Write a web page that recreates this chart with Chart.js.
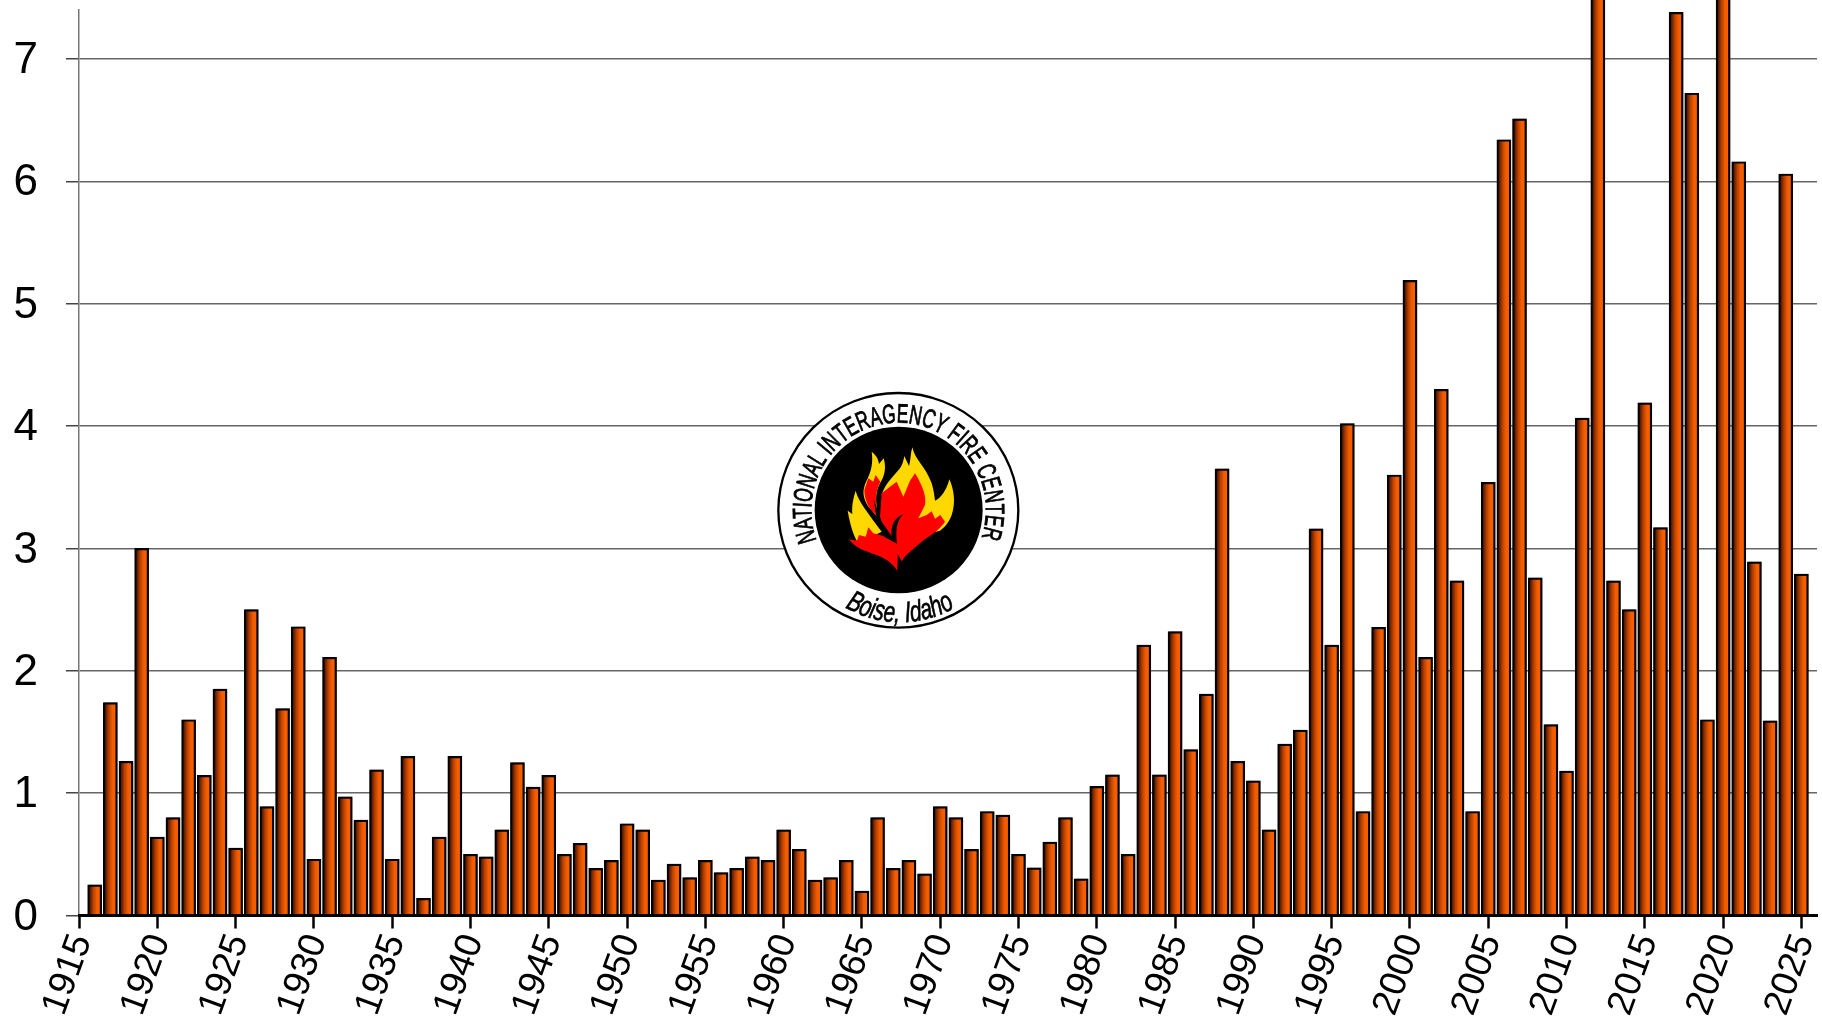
<!DOCTYPE html>
<html lang="en">
<head>
    <meta charset="UTF-8">
    <title>Acres Burned by Year</title>
    <script src="https://cdn.jsdelivr.net/npm/chart.js"></script>
    <style>
        html, body {
            margin: 0;
            padding: 0;
            background-color: #fff;
            overflow: hidden;
        }
        #wrap {
            position: relative;
            width: 1822px;
            height: 1017px;
        }
        #logo {
            position: absolute;
            left: 760px;
            top: 380px;
        }
    </style>
</head>
<body>
    <div id="wrap">
        <canvas id="burnChart" width="1822" height="1017"></canvas>
        <!-- NIFC seal, traced by eye, sits on top of the gridlines -->
        <svg id="logo" width="270" height="260" viewBox="0 0 810 780" xmlns="http://www.w3.org/2000/svg">
            <defs>
                <path id="topArc" d="M170,481 A262,262 0 1 1 664,474"/>
                <path id="bottomArc" d="M255,682 A330,330 0 0 0 600,674"/>
            </defs>
            <ellipse cx="415" cy="391" rx="360" ry="352" fill="#fff" stroke="#000" stroke-width="7"/>
            <ellipse cx="416" cy="390" rx="252" ry="250" fill="#000"/>
            <text font-family="'Liberation Sans', sans-serif" font-size="80" fill="#000" stroke="#000" stroke-width="2.5">
                <textPath href="#topArc" textLength="1000" lengthAdjust="spacingAndGlyphs">NATIONAL INTERAGENCY FIRE CENTER</textPath>
            </text>
            <text font-family="'Liberation Sans', sans-serif" font-style="italic" font-size="88" fill="#000" stroke="#000" stroke-width="2">
                <textPath href="#bottomArc" textLength="345" lengthAdjust="spacingAndGlyphs">Boise, Idaho</textPath>
            </text>
            <g transform="translate(225,180)">
                <path fill="#ffd800" d="M110,35 C128,50 130,60 132,72 L146,55 C155,85 148,110 135,130 C122,155 120,175 130,235 L105,205 C92,190 80,165 88,140 C95,115 118,90 110,35 Z"/>
                <path fill="#ff0000" d="M88,150 L100,115 L115,125 L122,105 L136,125 C122,150 118,180 130,235 L105,205 C95,190 88,170 88,150 Z"/>
                <path fill="#ffd800" d="M232,22 C240,60 272,80 290,130 C296,150 298,165 300,182 C318,175 335,150 343,118 C358,150 362,190 350,225 C340,250 330,260 315,272 L200,300 L140,165 C150,130 180,105 195,85 C205,70 205,60 208,48 L222,78 C228,60 226,40 232,22 Z"/>
                <path fill="#ffd800" d="M62,152 C70,185 100,220 140,275 L70,310 C52,280 45,250 38,212 L52,222 C50,195 55,175 62,152 Z"/>
                <path fill="#ff0000" d="M140,160 L165,140 L185,125 L205,170 L225,122 L240,100 C262,135 275,170 270,195 L250,235 L275,225 L290,214 L300,236 L316,225 L330,245 C318,262 298,280 278,292 C250,312 225,335 208,352 L200,364 L188,342 L187,393 C175,370 150,355 125,345 C95,335 60,325 42,298 L66,302 L72,285 L92,290 L100,262 L115,280 L135,285 L150,290 L135,230 Z"/>
                <path fill="#000" d="M116,178 L140,245 L187,312 L150,292 L126,240 Z"/>
                <path fill="#000" d="M206,222 C188,238 180,262 186,312 L170,288 C166,255 180,232 206,222 Z"/>
            </g>
        </svg>
    </div>

    <script>
        // Years on the axis; 1915 and 2026 are empty, only there to pad the scale
        const years = [];
        for (let y = 1915; y <= 2026; y++) years.push(y);

        // Values, one per year from 1915.
        // 2012 and 2020 run off the top of the picture, real height unknown.
        const values = [
            null, 0.25, 1.74, 1.26, 3.0, 0.64, 0.8, 1.6, 1.145, 1.85,
            0.55, 2.5, 0.89, 1.69, 2.36, 0.46, 2.11, 0.97, 0.78, 1.19,
            0.46, 1.3, 0.14, 0.64, 1.3, 0.5, 0.48, 0.7, 1.25, 1.05,
            1.145, 0.5, 0.59, 0.385, 0.45, 0.75, 0.7, 0.29, 0.42, 0.31,
            0.45, 0.35, 0.385, 0.48, 0.45, 0.7, 0.54, 0.29, 0.31, 0.45,
            0.2, 0.8, 0.385, 0.45, 0.34, 0.89, 0.8, 0.54, 0.85, 0.82,
            0.5, 0.39, 0.6, 0.8, 0.3, 1.055, 1.15, 0.5, 2.21, 1.15,
            2.32, 1.355, 1.81, 3.65, 1.26, 1.1, 0.7, 1.4, 1.515, 3.16,
            2.21, 4.02, 0.85, 2.355, 3.6, 5.19, 2.11, 4.3, 2.735, 0.85,
            3.54, 6.34, 6.51, 2.76, 1.56, 1.18, 4.065, 9.3, 2.735, 2.5,
            4.19, 3.17, 7.38, 6.72, 1.6, 10.1, 6.16, 2.89, 1.59, 6.06,
            2.79, null
        ];

        const fontFamily = "'Liberation Sans', Arial, sans-serif";

        // Each bar gets its own left-to-right dark-to-orange gradient
        function barGradient(ctx) {
            if (ctx.type !== 'data') return '#e05000';
            const chart = ctx.chart;
            const x = chart.scales.x.getPixelForValue(years[ctx.dataIndex]);
            if (!isFinite(x)) return '#e05000'; // scale not laid out yet
            const g = chart.ctx.createLinearGradient(x - 5, 0, x + 5, 0);
            g.addColorStop(0, '#501600');
            g.addColorStop(0.35, '#b54000');
            g.addColorStop(0.7, '#f25c00');
            g.addColorStop(1, '#f65e00');
            return g;
        }

        // Soft grey drop shadow behind the bars
        const barShadow = {
            id: 'barShadow',
            beforeDatasetDraw(chart) {
                const c = chart.ctx;
                c.save();
                c.shadowColor = 'rgba(0, 0, 0, 0.55)';
                c.shadowOffsetX = 1.5;
                c.shadowOffsetY = 0;
                c.shadowBlur = 1.5;
            },
            afterDatasetDraw(chart) {
                chart.ctx.restore();
            }
        };

        const burnChart = new Chart(document.getElementById('burnChart').getContext('2d'), {
            type: 'bar',
            data: {
                labels: years,
                datasets: [{
                    data: values,
                    backgroundColor: barGradient,
                    borderColor: '#000',
                    borderWidth: 2.2,
                    barThickness: 14,
                    clip: false
                }]
            },
            plugins: [barShadow],
            options: {
                responsive: false,
                animation: false,
                layout: {
                    padding: { top: 10, right: 5, bottom: 0, left: 0 }
                },
                plugins: {
                    legend: { display: false },
                    tooltip: { enabled: false }
                },
                scales: {
                    x: {
                        type: 'linear',
                        min: 1915,
                        max: 2026,
                        offset: false,
                        afterFit(s) {
                            s.height = 101.5;
                            s.paddingLeft = 0;
                            s.paddingRight = 0;
                        },
                        grid: {
                            offset: false,
                            drawOnChartArea: false,
                            tickLength: 13,
                            tickWidth: 2.5,
                            tickColor: '#000'
                        },
                        border: { color: '#000', width: 3, z: 1 },
                        ticks: {
                            stepSize: 5,
                            includeBounds: false,
                            autoSkip: false,
                            minRotation: 70,
                            maxRotation: 70,
                            padding: 0,
                            labelOffset: 3,
                            color: '#000',
                            font: { family: fontFamily, size: 37 },
                            callback: (v) => String(v)
                        }
                    },
                    y: {
                        min: 0,
                        max: 7.4,
                        afterFit(s) {
                            s.width = 79;
                            s.paddingTop = 0;
                            s.paddingBottom = 0;
                        },
                        grid: {
                            color: '#666',
                            lineWidth: 1.5,
                            tickLength: 13,
                            tickColor: '#444',
                            tickWidth: 1.5
                        },
                        border: { color: '#777', width: 1.5 },
                        ticks: {
                            stepSize: 1,
                            includeBounds: false,
                            padding: 28,
                            labelOffset: 2,
                            color: '#000',
                            font: { family: fontFamily, size: 44 }
                        }
                    }
                }
            }
        });
    </script>
</body>
</html>
